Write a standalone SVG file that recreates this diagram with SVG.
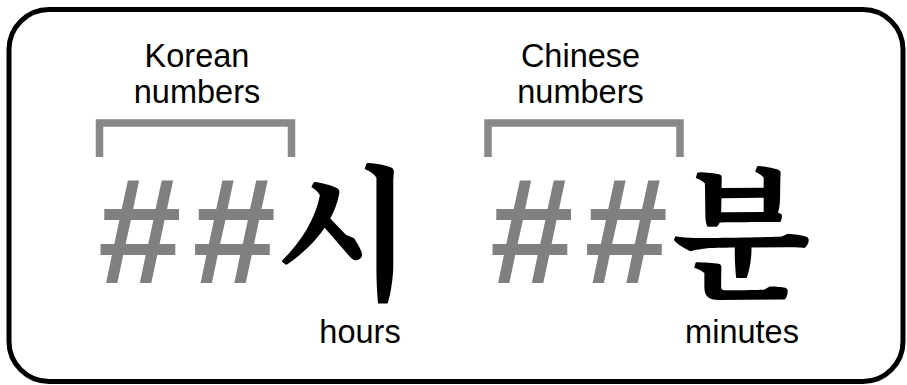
<svg xmlns="http://www.w3.org/2000/svg" width="907" height="385" viewBox="0 0 907 385">
<style>
.lbl{font-family:"Liberation Sans",Arial,sans-serif;font-size:32.5px;fill:#000;text-anchor:middle}
.hash{font-family:"Liberation Sans",Arial,sans-serif;font-weight:bold;font-size:150px;fill:#808080;letter-spacing:11px}
.ko{font-family:"Noto Serif CJK KR","Noto Sans CJK KR",serif;font-weight:bold;font-size:145px;fill:#000;text-anchor:middle}
.br{fill:none;stroke:#888;stroke-width:7.5;stroke-linejoin:miter;stroke-linecap:butt}
</style>
<rect x="9" y="9.5" width="894" height="372" rx="40" ry="40" fill="#fff" stroke="#000" stroke-width="5"/>
<g id="hours">
<text class="lbl" x="197" y="67">Korean</text>
<text class="lbl" x="197" y="103">numbers</text>
<path class="br" d="M99.5,157 V123 H291.5 V157"/>
<text class="hash" x="98" y="283">##</text>
<text class="ko" x="343.5" y="288">시</text>
<text class="lbl" x="360" y="343">hours</text>
</g>
<g id="minutes">
<text class="lbl" x="580.5" y="67">Chinese</text>
<text class="lbl" x="580.5" y="103">numbers</text>
<path class="br" d="M488,157 V123 H680 V157"/>
<text class="hash" x="490" y="283">##</text>
<text class="ko" x="741" y="288">분</text>
<text class="lbl" x="742" y="343">minutes</text>
</g>
<g id="connectors"/>
</svg>
